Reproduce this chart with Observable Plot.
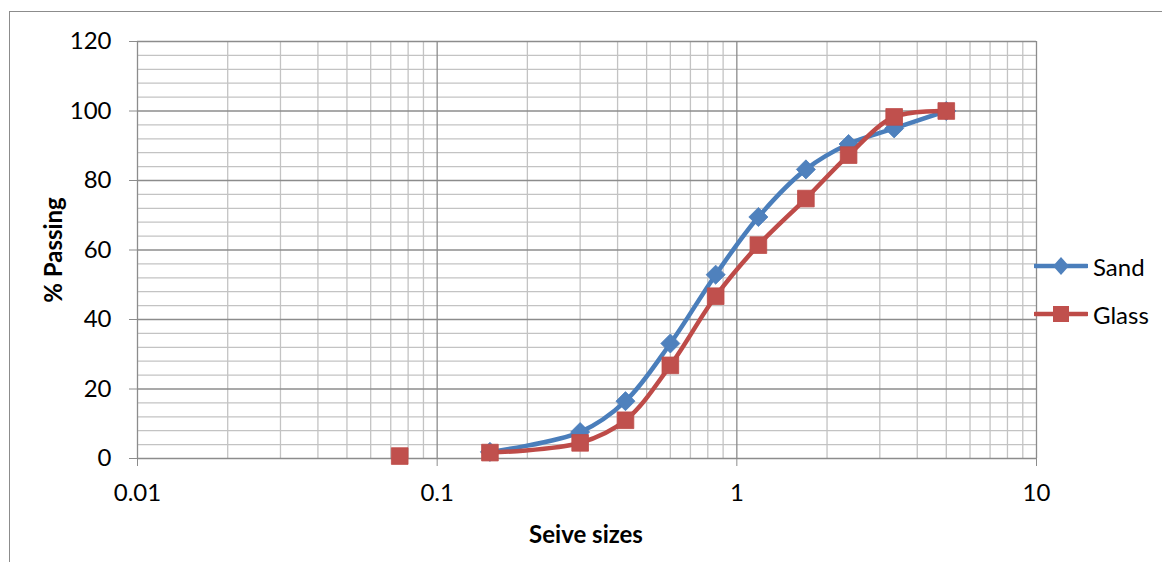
<!DOCTYPE html>
<html><head><meta charset="utf-8">
<script src="https://cdn.jsdelivr.net/npm/d3@7"></script>
<script src="https://cdn.jsdelivr.net/npm/@observablehq/plot@0.6"></script>
<style>
body{margin:0;background:#fff;font-family:Lato,"Open Sans",sans-serif;}
#wrap{position:relative;width:1162px;height:562px;overflow:hidden;}
#frame{position:absolute;left:9px;top:11px;width:1300px;height:700px;border-left:1.5px solid #8c8c8c;border-top:1.5px solid #8c8c8c;box-sizing:border-box;}
#chart{position:absolute;left:0;top:0;}
.title{position:absolute;font-weight:bold;font-size:24px;color:#000;white-space:nowrap;}
#xtitle{left:586px;top:533px;transform:translate(-50%,-50%);}
#ytitle{left:52px;top:250px;transform:translate(-50%,-50%) rotate(-90deg);}
.leg{position:absolute;left:1034px;height:26px;display:flex;align-items:center;font-size:24px;color:#000;}
.leg svg{margin-right:5px;}
</style>
</head><body>
<div id="wrap">
<div id="frame"></div>
<div id="chart"></div>
<div class="title" id="xtitle">Seive sizes</div>
<div class="title" id="ytitle">% Passing</div>
<div id="legend"></div>
</div>
<script>
// ---- data ----
const sieveSizes   = [0.075, 0.15, 0.3, 0.425, 0.6, 0.85, 1.18, 1.7, 2.36, 3.35, 5];
const sandPassing  = [null, 1.9, 7.6, 16.5, 33.1, 52.9, 69.5, 83.2, 90.5, 95.0, 100];
const glassPassing = [0.7, 1.7, 4.5, 11.0, 26.8, 46.7, 61.4, 74.8, 87.3, 98.3, 100];
const seriesNames  = ["Sand", "Glass"];
const xTickValues  = [0.01, 0.1, 1, 10];
const xTickLabels  = ["0.01", "0.1", "1", "10"];
const yTickValues  = [0, 20, 40, 60, 80, 100, 120];
const yTickLabels  = ["0", "20", "40", "60", "80", "100", "120"];
const lineStartSize = 0.15; // lines are drawn from this sieve upward

const blueFill = "#4F81BD", blueLine = "#4A7EBB";
const redFill = "#C0504D", redLine = "#BE4B48";

const sand = sieveSizes.map((s, i) => ({size: s, pass: sandPassing[i]})).filter(d => d.pass != null);
const glass = sieveSizes.map((s, i) => ({size: s, pass: glassPassing[i]})).filter(d => d.pass != null);

// minor gridlines
const yMinor = d3.range(0, 121, 4).filter(v => v % 20 !== 0);
const xMinor = [];
for (const dec of [0.01, 0.1, 1]) for (let k = 2; k <= 9; k++) xMinor.push(+(dec * k).toPrecision(3));

const chart = Plot.plot({
  width: 1162,
  height: 562,
  marginLeft: 137,
  marginRight: 126,
  marginTop: 41,
  marginBottom: 104,
  style: {fontFamily: "Lato, 'Open Sans', sans-serif", background: "transparent"},
  x: {type: "log", domain: [0.01, 10]},
  y: {domain: [0, 120]},
  marks: [
    Plot.ruleY(yMinor, {stroke: "#c3c3c3", strokeWidth: 1.3}),
    Plot.ruleX(xMinor, {stroke: "#c3c3c3", strokeWidth: 1.3}),
    Plot.ruleY(yTickValues, {stroke: "#8c8c8c", strokeWidth: 1.3}),
    Plot.ruleX(xTickValues, {stroke: "#8c8c8c", strokeWidth: 1.3}),
    Plot.axisY({ticks: yTickValues, tickFormat: d => yTickLabels[yTickValues.indexOf(d)], tickSize: 8, tickPadding: 18, fontSize: 24, stroke: "#8c8c8c", fill: "#000", label: null}),
    Plot.axisX({ticks: xTickValues, tickFormat: d => xTickLabels[xTickValues.indexOf(d)], tickSize: 8, tickPadding: 17, fontSize: 24, stroke: "#8c8c8c", fill: "#000", label: null}),
    Plot.line(sand.filter(d => d.size >= lineStartSize), {x: "size", y: "pass", stroke: blueLine, strokeWidth: 4.5, curve: "catmull-rom"}),
    Plot.dot(sand, {x: "size", y: "pass", symbol: "diamond2", r: 8.6, fill: blueFill, stroke: blueLine, strokeWidth: 0.8}),
    Plot.line(glass.filter(d => d.size >= lineStartSize), {x: "size", y: "pass", stroke: redLine, strokeWidth: 4.5, curve: "catmull-rom"}),
    Plot.dot(glass, {x: "size", y: "pass", symbol: "square", r: 9.4, fill: redFill, stroke: redLine, strokeWidth: 0.8})
  ]
});
document.getElementById("chart").appendChild(chart);

// legend
const legend = document.getElementById("legend");
const legendItems = [
  {name: seriesNames[0], line: blueLine, fill: blueFill, shape: "diamond", top: 253},
  {name: seriesNames[1], line: redLine, fill: redFill, shape: "square", top: 301}
];
for (const it of legendItems) {
  const div = document.createElement("div");
  div.className = "leg";
  div.style.top = it.top + "px";
  const marker = it.shape === "diamond"
    ? `<path d="M27,4 L35,13 L27,22 L19,13 Z" fill="${it.fill}"/>`
    : `<rect x="19" y="5" width="16" height="16" fill="${it.fill}"/>`;
  div.innerHTML = `<svg width="54" height="26"><line x1="1" y1="13" x2="53" y2="13" stroke="${it.line}" stroke-width="4.5" stroke-linecap="round"/>${marker}</svg><span>${it.name}</span>`;
  legend.appendChild(div);
}
</script>
</body></html>
